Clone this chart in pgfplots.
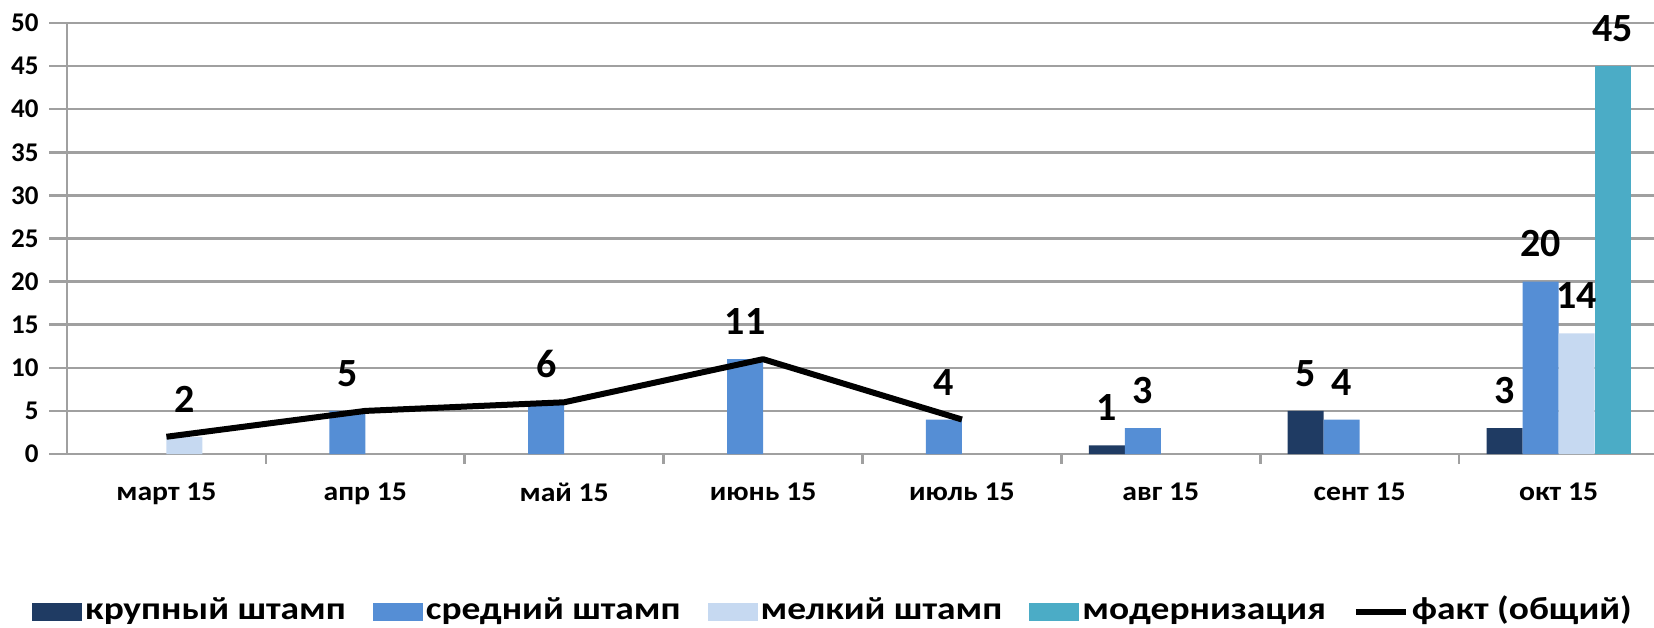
\documentclass[border=0pt]{standalone}
\usepackage{pgfplots}
\pgfplotsset{compat=1.18}
\usepackage{fontspec}
\setmainfont{Carlito}
\newfontfamily\xfont{Carlito}[FakeStretch=1.1]
\newfontfamily\legfont{Carlito}[FakeStretch=1.17]

\definecolor{big}{HTML}{1F3B63}
\definecolor{mid}{HTML}{558ED5}
\definecolor{small}{HTML}{C6D9F1}
\definecolor{modern}{HTML}{4BACC6}
\definecolor{gridgray}{RGB}{160,160,160}

\begin{document}
\begin{tikzpicture}
  \begin{axis}[
      name=ax,
      scale only axis,
      width=793.5pt, height=215.5pt,
      xmin=-0.5, xmax=7.48,
      ymin=0, ymax=50,
      axis lines*=left,
      axis line style={gridgray, line width=1.3pt},
      ytick={0,5,...,50},
      ymajorgrids,
      major grid style={gridgray, line width=1.3pt},
      tick align=outside,
      major y tick style={gridgray, line width=1.3pt},
      major tick length=9pt,
      xtick={0,...,7},
      xticklabels={март 15, апр 15, май 15, июнь 15, июль 15, авг 15, сент 15, окт 15},
      major x tick style={draw=none},
      minor xtick={0.5,1.5,...,6.5},
      minor x tick style={gridgray, line width=1.3pt},
      minor tick length=5pt,
      /pgf/number format/assume math mode=true,
      yticklabel style={font=\bfseries\fontsize{13.5}{14}\selectfont, inner sep=0pt, anchor=east, xshift=-5pt},
      xticklabel style={font=\xfont\bfseries\fontsize{13.5}{14}\selectfont, inner sep=0pt, anchor=north, yshift=-5.5pt},
      nodes near coords,
      nodes near coords style={font=\bfseries\fontsize{20}{20}\selectfont, anchor=south, inner sep=0pt, yshift=12pt, text=black},
      legend columns=5,
      legend style={draw=none, at={(0.483,-0.367)}, anchor=center,
        font=\legfont\bfseries\fontsize{16}{16}\selectfont,
        nodes={inner sep=1.5pt, text height=11pt, text depth=3.5pt},
        /tikz/every even column/.append style={column sep=12pt}},
      legend cell align=left,
    ]
    \addplot[ybar, bar width=18pt, bar shift=-27pt, fill=big, draw=none,
      nodes near coords style={xshift=-27pt},
      legend image code/.code={\fill[big] (0pt,-4.5pt) rectangle (25pt,4.5pt);}]
      coordinates {(5,1) (6,5) (7,3)};
    \addlegendentry{крупный штамп}
    \addplot[ybar, bar width=18pt, bar shift=-9pt, fill=mid, draw=none,
      nodes near coords style={xshift=-9pt},
      legend image code/.code={\fill[mid] (0pt,-4.5pt) rectangle (25pt,4.5pt);}]
      coordinates {(1,5) (2,6) (3,11) (4,4) (5,3) (6,4) (7,20)};
    \addlegendentry{средний штамп}
    \addplot[ybar, bar width=18pt, bar shift=9pt, fill=small, draw=none,
      nodes near coords style={xshift=9pt},
      legend image code/.code={\fill[small] (0pt,-4.5pt) rectangle (25pt,4.5pt);}]
      coordinates {(0,2) (7,14)};
    \addlegendentry{мелкий штамп}
    \addplot[ybar, bar width=18pt, bar shift=27pt, fill=modern, draw=none,
      nodes near coords style={xshift=27pt},
      legend image code/.code={\fill[modern] (0pt,-4.5pt) rectangle (25pt,4.5pt);}]
      coordinates {(7,45)};
    \addlegendentry{модернизация}
    \addplot[black, line width=3pt, line join=round, mark=none, nodes near coords=,
      legend image code/.code={\draw[black, line width=3pt] (0pt,0pt) -- (25pt,0pt);}]
      coordinates {(0,2) (1,5) (2,6) (3,11) (4,4)};
    \addlegendentry{факт (общий)}
  \end{axis}
  \pgfresetboundingbox
  \path[use as bounding box] ([xshift=-33.5pt,yshift=-86.5pt]ax.south west) rectangle ([yshift=11.5pt]ax.north east);
\end{tikzpicture}
\end{document}
